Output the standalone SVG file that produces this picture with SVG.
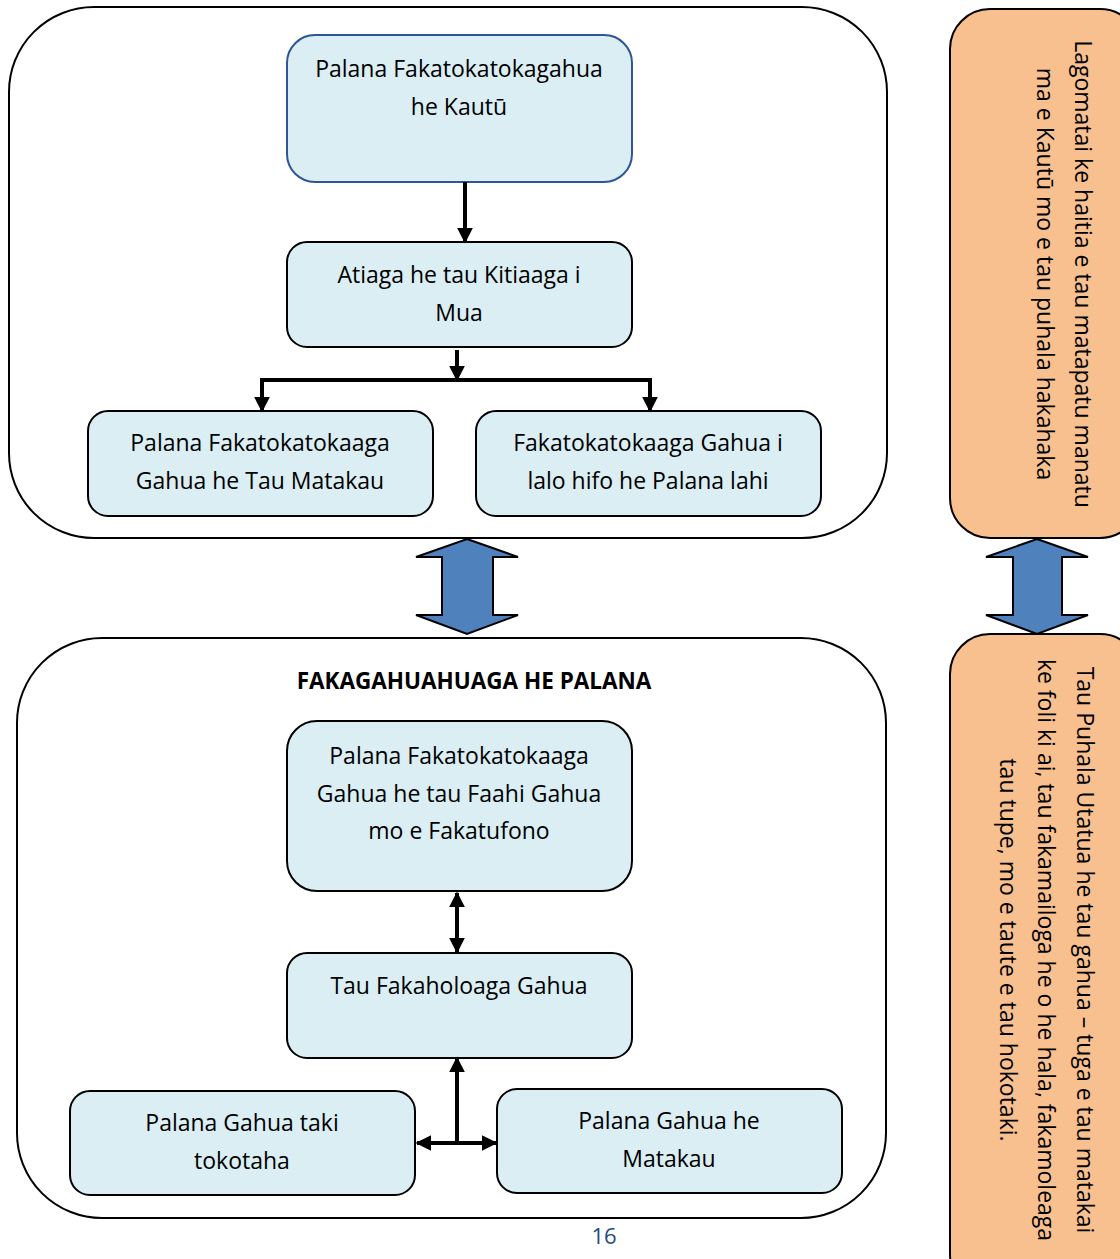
<svg xmlns="http://www.w3.org/2000/svg" width="1120" height="1259" viewBox="0 0 1120 1259">
<defs>
<style>
.outer{fill:#fff;stroke:#000;stroke-width:2}
.node{fill:#DAEEF3;stroke:#000;stroke-width:2}
.nodeb{fill:#DAEEF3;stroke:#2F5597;stroke-width:2}
.orange{fill:#F8C08F;stroke:#000;stroke-width:2}
.big{fill:#4F81BD;stroke:#000;stroke-width:2;stroke-linejoin:miter}
.t{font-family:"Open Sans","Liberation Sans",sans-serif;font-size:23px;fill:#000;text-anchor:middle}
.title{font-family:"Open Sans","Liberation Sans",sans-serif;font-size:22.5px;font-weight:bold;fill:#000;text-anchor:middle}
.conn{stroke:#000;stroke-width:4;fill:none}
</style>
<marker id="ah" viewBox="0 0 10 10" refX="9" refY="5" markerWidth="4" markerHeight="4" orient="auto-start-reverse" markerUnits="strokeWidth">
<path d="M0,0 L10,5 L0,10 z" fill="#000"/>
</marker>
</defs>
<rect width="1120" height="1259" fill="#fff"/>

<g id="frame-top"><rect class="outer" x="9" y="7" width="878" height="531" rx="85"/></g>
<g id="frame-bottom"><rect class="outer" x="17" y="638" width="869" height="580" rx="85"/>
<text class="title" x="474" y="689">FAKAGAHUAHUAGA HE PALANA</text></g>

<g id="orange-top"><rect class="orange" x="950" y="9" width="190" height="529" rx="40"/>
<g transform="translate(1064,274) rotate(90)">
<text class="t" x="0" y="-11">Lagomatai ke haitia e tau matapatu manatu</text>
<text class="t" x="0" y="27">ma e Kautū mo e tau puhala hakahaka</text>
</g></g>
<g id="orange-bottom"><rect class="orange" x="950" y="634" width="190" height="660" rx="40"/>
<g transform="translate(1046,950) rotate(90)">
<text class="t" x="0" y="-31">Tau Puhala Utatua he tau gahua – tuga e tau matakai</text>
<text class="t" x="0" y="8">ke foli ki ai, tau fakamailoga he o he hala, fakamoleaga</text>
<text class="t" x="0" y="46">tau tupe, mo e taute e tau hokotaki.</text>
</g></g>

<g id="n1"><rect class="nodeb" x="287" y="35" width="345" height="147" rx="28"/>
<text class="t" x="459" y="77">Palana Fakatokatokagahua</text>
<text class="t" x="459" y="115">he Kautū</text></g>
<g id="n2"><rect class="node" x="287" y="242" width="345" height="105" rx="20"/>
<text class="t" x="459" y="283">Atiaga he tau Kitiaaga i</text>
<text class="t" x="459" y="321">Mua</text></g>
<g id="n3"><rect class="node" x="88" y="411" width="345" height="105" rx="20"/>
<text class="t" x="260" y="451">Palana Fakatokatokaaga</text>
<text class="t" x="260" y="489">Gahua he Tau Matakau</text></g>
<g id="n4"><rect class="node" x="476" y="411" width="345" height="105" rx="20"/>
<text class="t" x="648" y="451">Fakatokatokaaga Gahua i</text>
<text class="t" x="648" y="489">lalo hifo he Palana lahi</text></g>
<g id="n5"><rect class="node" x="287" y="721" width="345" height="170" rx="30"/>
<text class="t" x="459" y="764">Palana Fakatokatokaaga</text>
<text class="t" x="459" y="802">Gahua he tau Faahi Gahua</text>
<text class="t" x="459" y="839">mo e Fakatufono</text></g>
<g id="n6"><rect class="node" x="287" y="953" width="345" height="105" rx="20"/>
<text class="t" x="459" y="994">Tau Fakaholoaga Gahua</text></g>
<g id="n7"><rect class="node" x="70" y="1091" width="345" height="104" rx="20"/>
<text class="t" x="242" y="1131">Palana Gahua taki</text>
<text class="t" x="242" y="1169">tokotaha</text></g>
<g id="n8"><rect class="node" x="497" y="1089" width="345" height="104" rx="20"/>
<text class="t" x="669" y="1129">Palana Gahua he</text>
<text class="t" x="669" y="1167">Matakau</text></g>

<g id="connectors">
<path class="conn" d="M465,182 L465,242" marker-end="url(#ah)"/>
<path class="conn" d="M457,350 L457,380" marker-end="url(#ah)"/>
<path class="conn" d="M260,380 L650,380"/>
<path class="conn" d="M262,378 L262,411" marker-end="url(#ah)"/>
<path class="conn" d="M650,378 L650,411" marker-end="url(#ah)"/>
<path class="conn" d="M457,893 L457,952" marker-start="url(#ah)" marker-end="url(#ah)"/>
<path class="conn" d="M457,1058 L457,1143" marker-start="url(#ah)"/>
<path class="conn" d="M417,1143 L496,1143" marker-start="url(#ah)" marker-end="url(#ah)"/>
<path class="big" d="M467,539 L518,557 L493,557 L493,615 L518,615 L467,634 L416,615 L442,615 L442,557 L416,557 Z"/>
<path class="big" d="M1037,539 L1088,557 L1062,557 L1062,615 L1088,615 L1037,634 L986,615 L1013,615 L1013,557 L986,557 Z"/>
</g>
<text x="604" y="1244" style="font-family:'Open Sans','Liberation Sans',sans-serif;font-size:22px;fill:#1F4E79;text-anchor:middle">16</text>
</svg>
